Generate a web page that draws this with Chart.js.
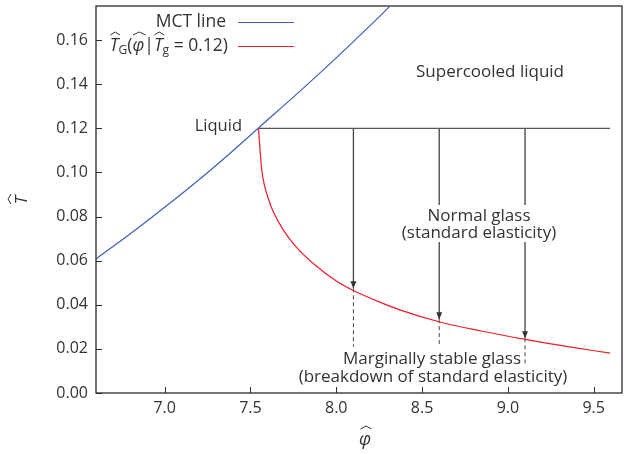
<!DOCTYPE html>
<html>
<head>
<meta charset="utf-8">
<script src="https://cdn.jsdelivr.net/npm/chart.js@4/dist/chart.umd.min.js"></script>
<style>
  body { margin: 0; background: #fff; }
  #wrap { width: 631px; height: 454px; }
</style>
</head>
<body>
<div id="wrap"><canvas id="phaseChart"></canvas></div>
<script>
// MCT line
const mctPhi = [6.6, 6.8, 7.0, 7.2, 7.4, 7.547, 7.8, 8.0, 8.2, 8.31];
const mctT = [0.0608, 0.0722, 0.0842, 0.0967, 0.1100, 0.1202, 0.1377, 0.1520, 0.1668, 0.1752];

// glass line, T_G(phi | T_g = 0.12)
const glassPhi = [7.547, 7.556, 7.566, 7.582, 7.607, 7.631, 7.689, 7.763, 7.88, 8.0, 8.097, 8.25, 8.37, 8.604, 8.85, 9.1, 9.35, 9.596];
const glassT = [0.1202, 0.110, 0.101, 0.094, 0.0875, 0.0825, 0.0742, 0.0665, 0.0578, 0.0508, 0.0466, 0.0413, 0.0377, 0.0322, 0.0280, 0.0243, 0.0210, 0.0181];

// liquid cooling line
const liquidPhi = [7.547, 9.596];
const liquidT = [0.12, 0.12];

// quench arrows and dashed drops
const arrowPhi = [8.1, 8.6, 9.1];
const arrowTipT = [0.0475, 0.0335, 0.0248];
const dashEndT = [0.021, 0.021, 0.0128];

const xTicks = [7.0, 7.5, 8.0, 8.5, 9.0, 9.5];
const xTickLabels = ["7.0", "7.5", "8.0", "8.5", "9.0", "9.5"];
const yTicks = [0, 0.02, 0.04, 0.06, 0.08, 0.10, 0.12, 0.14, 0.16];
const yTickLabels = ["0.00", "0.02", "0.04", "0.06", "0.08", "0.10", "0.12", "0.14", "0.16"];

const ink = "#333333";
const fontFam = "'Open Sans', sans-serif";

function pts(xs, ys) {
    return xs.map((x, i) => ({ x: x, y: ys[i] }));
}

const datasets = [
    {
        data: pts(mctPhi, mctT),
        borderColor: "#3d5fb5",
        borderWidth: 1.2,
        cubicInterpolationMode: "monotone"
    },
    {
        data: pts(glassPhi, glassT),
        borderColor: "#ee1c25",
        borderWidth: 1.2,
        cubicInterpolationMode: "monotone"
    },
    {
        data: pts(liquidPhi, liquidT),
        borderColor: "#555",
        borderWidth: 1.3
    }
];

arrowPhi.forEach((p, i) => {
    datasets.push({
        data: [{ x: p, y: 0.12 }, { x: p, y: arrowTipT[i] }],
        borderColor: "#444",
        borderWidth: 1.3
    });
    datasets.push({
        data: [{ x: p, y: arrowTipT[i] }, { x: p, y: dashEndT[i] }],
        borderColor: "#444",
        borderWidth: 1,
        borderDash: [4, 3]
    });
});

// hat accent over a glyph
function hat(ctx, cx, y, w) {
    ctx.beginPath();
    ctx.moveTo(cx - w / 2, y + 3);
    ctx.lineTo(cx, y);
    ctx.lineTo(cx + w / 2, y + 3);
    ctx.lineWidth = 1;
    ctx.strokeStyle = ink;
    ctx.stroke();
}

function text(ctx, s, x, y, align, size, style) {
    ctx.font = (style || "") + " " + (size || 17) + "px " + fontFam;
    ctx.textAlign = align || "center";
    ctx.textBaseline = "middle";
    ctx.fillStyle = ink;
    ctx.fillText(s, x, y);
}

const decor = {
    id: "decor",
    afterDatasetsDraw(chart) {
        const ctx = chart.ctx;
        const a = chart.chartArea;
        const xs = chart.scales.x;
        const ys = chart.scales.y;
        ctx.save();

        // arrow heads
        ctx.fillStyle = "#333";
        arrowPhi.forEach((p, i) => {
            const px = xs.getPixelForValue(p);
            const py = ys.getPixelForValue(arrowTipT[i]);
            ctx.beginPath();
            ctx.moveTo(px, py);
            ctx.lineTo(px - 3, py - 7);
            ctx.lineTo(px + 3, py - 7);
            ctx.closePath();
            ctx.fill();
        });

        // frame
        ctx.strokeStyle = "#2b2b2b";
        ctx.lineWidth = 1.3;
        ctx.strokeRect(a.left, a.top, a.right - a.left, a.bottom - a.top);

        // inward ticks
        ctx.beginPath();
        xTicks.forEach(v => {
            const px = Math.round(xs.getPixelForValue(v)) + 0.5;
            ctx.moveTo(px, a.bottom);
            ctx.lineTo(px, a.bottom - 6);
        });
        yTicks.forEach(v => {
            const py = Math.round(ys.getPixelForValue(v)) + 0.5;
            ctx.moveTo(a.left, py);
            ctx.lineTo(a.left + 6, py);
        });
        ctx.lineWidth = 1;
        ctx.stroke();

        // region labels
        text(ctx, "Liquid", 242, 126, "right", 16.5);
        text(ctx, "Supercooled liquid", 490, 72, "center", 17);

        ctx.fillStyle = "#fff";
        ctx.fillRect(398, 205, 162, 37);
        text(ctx, "Normal glass", 479, 216, "center", 17);
        text(ctx, "(standard elasticity)", 479, 233, "center", 17);

        text(ctx, "Marginally stable glass", 432, 359, "center", 17);
        text(ctx, "(breakdown of standard elasticity)", 433, 377, "center", 17);

        // legend
        ctx.lineWidth = 1.2;
        ctx.strokeStyle = "#3d5fb5";
        ctx.beginPath();
        ctx.moveTo(238, 22.5);
        ctx.lineTo(294, 22.5);
        ctx.stroke();
        ctx.strokeStyle = "#ee1c25";
        ctx.beginPath();
        ctx.moveTo(238, 46.5);
        ctx.lineTo(294, 46.5);
        ctx.stroke();
        text(ctx, "MCT line", 226, 22, "right", 17.5);

        // T_G(phi | T_g = 0.12), built piece by piece
        const parts = [
            { s: "T", size: 17.5, style: "italic", dy: 0, hat: true },
            { s: "G", size: 12, style: "", dy: 5 },
            { s: "(", size: 17.5, style: "", dy: 0 },
            { s: "\u03C6", size: 17.5, style: "italic", dy: 0, hat: true },
            { s: "|", size: 17.5, style: "", dy: 0 },
            { s: "T", size: 17.5, style: "italic", dy: 0, hat: true },
            { s: "g", size: 12, style: "", dy: 5 },
            { s: " = 0.12)", size: 17.5, style: "", dy: 0 }
        ];
        let total = 0;
        parts.forEach(pt => {
            ctx.font = pt.style + " " + pt.size + "px " + fontFam;
            pt.w = ctx.measureText(pt.s).width;
            total += pt.w;
        });
        let cx = 228 - total;
        parts.forEach(pt => {
            text(ctx, pt.s, cx, 46 + pt.dy, "left", pt.size, pt.style);
            if (pt.hat) hat(ctx, cx + pt.w / 2 + 1, 32, pt.w + 1);
            cx += pt.w;
        });

        // axis titles
        text(ctx, "\u03C6", 365, 440, "center", 18, "italic");
        hat(ctx, 366, 426, 11);

        ctx.save();
        ctx.translate(22, 200);
        ctx.rotate(-Math.PI / 2);
        text(ctx, "T", 0, 0, "center", 17, "italic");
        hat(ctx, 1, -14, 10);
        ctx.restore();

        ctx.restore();
    }
};

new Chart(document.getElementById("phaseChart"), {
    type: "line",
    data: { datasets: datasets },
    plugins: [decor],
    options: {
        responsive: true,
        maintainAspectRatio: false,
        animation: false,
        layout: { padding: { left: 0, right: 9, top: 6, bottom: 0 } },
        elements: { point: { radius: 0 } },
        plugins: {
            legend: { display: false },
            tooltip: { enabled: false }
        },
        scales: {
            x: {
                type: "linear",
                min: 6.6,
                max: 9.665,
                afterBuildTicks: s => { s.ticks = xTicks.map(v => ({ value: v })); },
                afterFit: s => {
                    s.height = 61;
                    s.paddingLeft = 0;
                    s.paddingRight = 0;
                },
                grid: { display: false, drawTicks: false },
                border: { display: false },
                ticks: {
                    padding: 6,
                    color: ink,
                    font: { family: "Open Sans", size: 16 },
                    maxRotation: 0,
                    callback: (v, i) => xTickLabels[i]
                }
            },
            y: {
                min: 0,
                max: 0.1755,
                afterBuildTicks: s => { s.ticks = yTicks.map(v => ({ value: v })); },
                afterFit: s => {
                    s.width = 96;
                    s.paddingTop = 0;
                    s.paddingBottom = 0;
                },
                grid: { display: false, drawTicks: false },
                border: { display: false },
                ticks: {
                    padding: 8,
                    color: ink,
                    font: { family: "Open Sans", size: 16 },
                    callback: (v, i) => yTickLabels[i]
                }
            }
        }
    }
});
</script>
</body>
</html>
